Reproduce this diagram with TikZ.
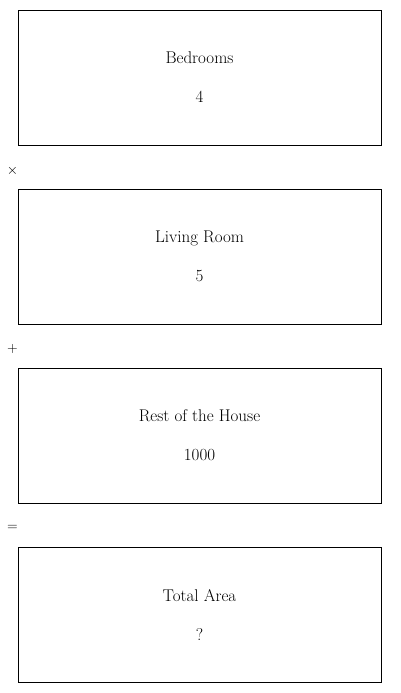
\documentclass[tikz,border=0pt]{standalone}
\usepackage{tikz}
\usetikzlibrary{positioning}

\tikzset{
	areabox/.style={draw, line width=0.9pt, minimum width=363pt, minimum height=135pt, align=center, font=\fontsize{17}{39}\selectfont},
	opsign/.style={font=\sffamily\fontsize{14}{16}\selectfont, inner sep=0pt}
}

\begin{document}
\begin{tikzpicture}[x=1pt,y=-1pt]
\useasboundingbox (0,0) rectangle (400,693);

\node [areabox] (bedrooms) at (199.5,77.5) {Bedrooms\\4};
\node [areabox] (living) at (199.5,256.5) {Living Room\\5};
\node [areabox] (rest) at (199.5,435.5) {Rest of the House\\1000};
\node [areabox] (total) at (199.5,614.5) {Total Area\\?};

\node [opsign] (times) at (12.5,170.5) {$\times$};
\node [opsign] (plus) at (12.5,349) {+};
\node [opsign] (equals) at (12.5,528) {=};
\end{tikzpicture}
\end{document}
